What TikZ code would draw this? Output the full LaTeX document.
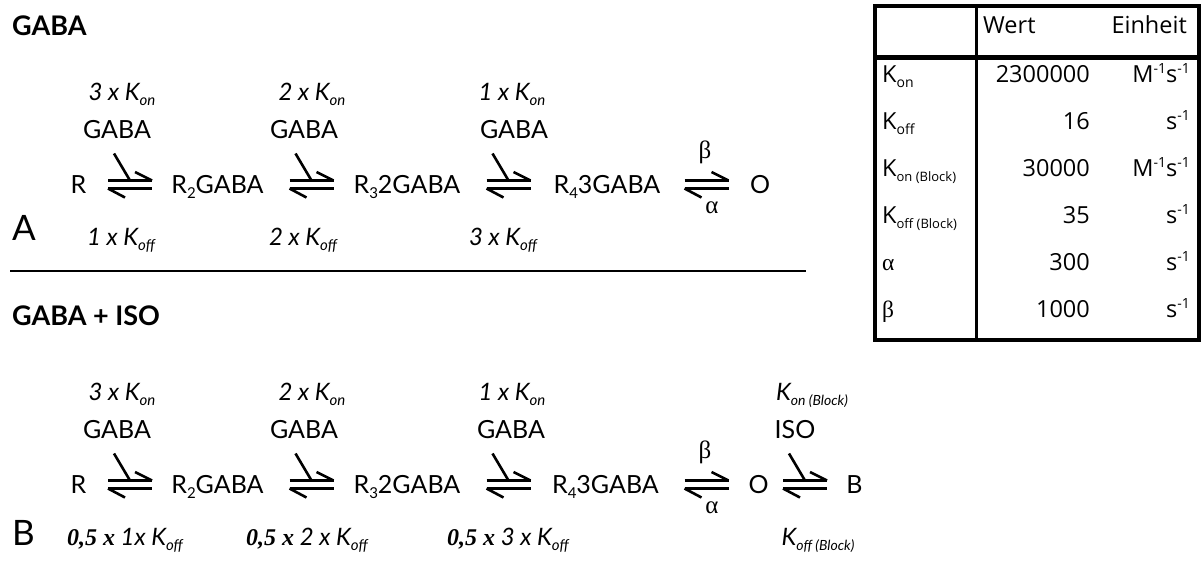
\documentclass[tikz,border=0pt]{standalone}
\usepackage{fontspec}
\setmainfont{Lato}
\newfontfamily\grk{Liberation Serif}
\newfontfamily\tms{Liberation Serif}
\newfontfamily\tabf{Open Sans}
\newcommand\fs[1]{\fontsize{#1}{#1}\selectfont}
\newcommand\dn[1]{\raisebox{-5pt}{\fs{15}#1}}
\newcommand\dnb[1]{\raisebox{-5pt}{\fs{14}#1}}
\newcommand\dnt[1]{\raisebox{-5pt}{\fs{13}#1}}
\newcommand\up[1]{\raisebox{9pt}{\fs{14}#1}}
\newcommand\half{{\tms\bfseries\itshape\fs{24}0,5 x}}
\tikzset{
  spc/.style={anchor=base, inner sep=0pt, font=\fs{25}},
  rate/.style={anchor=base, inner sep=0pt, font=\fs{24}\itshape},
  grklbl/.style={anchor=base, inner sep=0pt, font=\fs{25}\grk},
  ttl/.style={anchor=base west, inner sep=0pt, font=\fs{27}\bfseries},
  panel/.style={anchor=base west, inner sep=0pt, font=\fs{35}},
  eqline/.style={line width=2.6pt, line cap=butt},
  rulestyle/.style={line width=2pt},
  tabtxt/.style={inner sep=0pt, font=\fs{23.5}\tabf},
  tabframe/.style={line width=4.5pt},
  pics/eqarrow/.style={code={
    \draw[eqline] (-22,-4) -- (22,-4);
    \draw[eqline] (22,-4) -- (5,-12.5);
    \draw[eqline] (-22,4) -- (22,4);
    \draw[eqline] (-22,4) -- (-5,13);
  }},
  pics/eqarrowin/.style={code={
    \pic {eqarrow};
    \draw[eqline] (-16,-31) -- (0,-4);
  }},
}
\begin{document}
\begin{tikzpicture}[x=1pt,y=-1pt]
\useasboundingbox (0,0) rectangle (1203,565);
% titles
\node[ttl] (tA) at (12,35) {GABA};
\node[ttl] (tB) at (12,325) {GABA + ISO};
\node[panel] (pA) at (12,240) {A};
\node[panel] (pB) at (12,545) {B};
\coordinate (ruleL) at (10,271);
\coordinate (ruleR) at (806,271);
\draw[rulestyle] (ruleL) -- (ruleR);

% ---------- Scheme A ----------
\node[spc] (Ra)  at (78.5,193) {R};
\node[spc] (R2a) at (217.5,193) {R\dn{2}GABA};
\node[spc] (R3a) at (407,193) {R\dn{3}2GABA};
\node[spc] (R4a) at (607,193) {R\dn{4}3GABA};
\node[spc] (Oa)  at (760,193) {O};
\coordinate (a1) at (130,184.5);
\coordinate (a2) at (311.5,184.5);
\coordinate (a3) at (508.5,184.5);
\coordinate (a4) at (706.5,184.5);
\pic at (a1) {eqarrowin};
\pic at (a2) {eqarrowin};
\pic at (a3) {eqarrowin};
\pic at (a4) {eqarrow};
\node[rate] (ka1) at (122,100) {3 x K\dn{on}};
\node[rate] (ka2) at (312,100) {2 x K\dn{on}};
\node[rate] (ka3) at (512,100) {1 x K\dn{on}};
\node[spc] (ga1) at (117,138) {GABA};
\node[spc] (ga2) at (304,138) {GABA};
\node[spc] (ga3) at (514,138) {GABA};
\node[grklbl] (beA) at (705,158) {β};
\node[grklbl] (alA) at (712,213) {α};
\node[rate] (fa1) at (121,245) {1 x K\dn{off}};
\node[rate] (fa2) at (303,245) {2 x K\dn{off}};
\node[rate] (fa3) at (503,245) {3 x K\dn{off}};

% ---------- Scheme B ----------
\node[spc] (Rb)  at (78.5,493) {R};
\node[spc] (R2b) at (217.5,493) {R\dn{2}GABA};
\node[spc] (R3b) at (407,493) {R\dn{3}2GABA};
\node[spc] (R4b) at (605.5,493) {R\dn{4}3GABA};
\node[spc] (Ob)  at (758.5,493) {O};
\node[spc] (Bb)  at (854.5,493) {B};
\coordinate (b1) at (130,484.5);
\coordinate (b2) at (311.5,484.5);
\coordinate (b3) at (508.5,484.5);
\coordinate (b4) at (706.5,484.5);
\coordinate (b5) at (805,484.5);
\pic at (b1) {eqarrowin};
\pic at (b2) {eqarrowin};
\pic at (b3) {eqarrowin};
\pic at (b4) {eqarrow};
\pic at (b5) {eqarrowin};
\node[rate] (kb1) at (122,400) {3 x K\dn{on}};
\node[rate] (kb2) at (312,400) {2 x K\dn{on}};
\node[rate] (kb3) at (512,400) {1 x K\dn{on}};
\node[rate] (kb4) at (812,400) {K\dnb{on (Block)}};
\node[spc] (gb1) at (117,438) {GABA};
\node[spc] (gb2) at (304,438) {GABA};
\node[spc] (gb3) at (511,438) {GABA};
\node[spc] (iso) at (795,438) {ISO};
\node[grklbl] (beB) at (705,458) {β};
\node[grklbl] (alB) at (712,513) {α};
\node[rate] (fb1) at (125,545) {\half\ 1x K\dn{off}};
\node[rate] (fb2) at (307,545) {\half\ 2 x K\dn{off}};
\node[rate] (fb3) at (508,545) {\half\ 3 x K\dn{off}};
\node[rate] (fb4) at (818,545) {K\dnb{off (Block)}};

% ---------- Table ----------
\draw[tabframe] (875,6) rectangle (1199,340);
\draw[line width=3pt] (976.5,6) -- (976.5,340);
\draw[line width=5pt] (875,57) -- (1199,57);
\node[tabtxt, anchor=base west] (hW) at (983,33) {Wert};
\node[tabtxt, anchor=base east] (hE) at (1187,33) {Einheit};
\foreach \lab/\val/\unit [count=\i from 0] in {
  {K\dnb{on}}/2300000/{M\up{-1}s\up{-1}},
  {K\dnb{off}}/16/{s\up{-1}},
  {K\dnt{on (Block)}}/30000/{M\up{-1}s\up{-1}},
  {K\dnt{off (Block)}}/35/{s\up{-1}},
  {{\grk α}}/300/{s\up{-1}},
  {{\grk β}}/1000/{s\up{-1}}}{
  \node[tabtxt, anchor=base west] (l\i) at (882,82+47*\i) {\lab};
  \node[tabtxt, anchor=base east] (v\i) at (1090,82+47*\i) {\val};
  \node[tabtxt, anchor=base east] (u\i) at (1190,82+47*\i) {\unit};
}
\end{tikzpicture}
\end{document}
